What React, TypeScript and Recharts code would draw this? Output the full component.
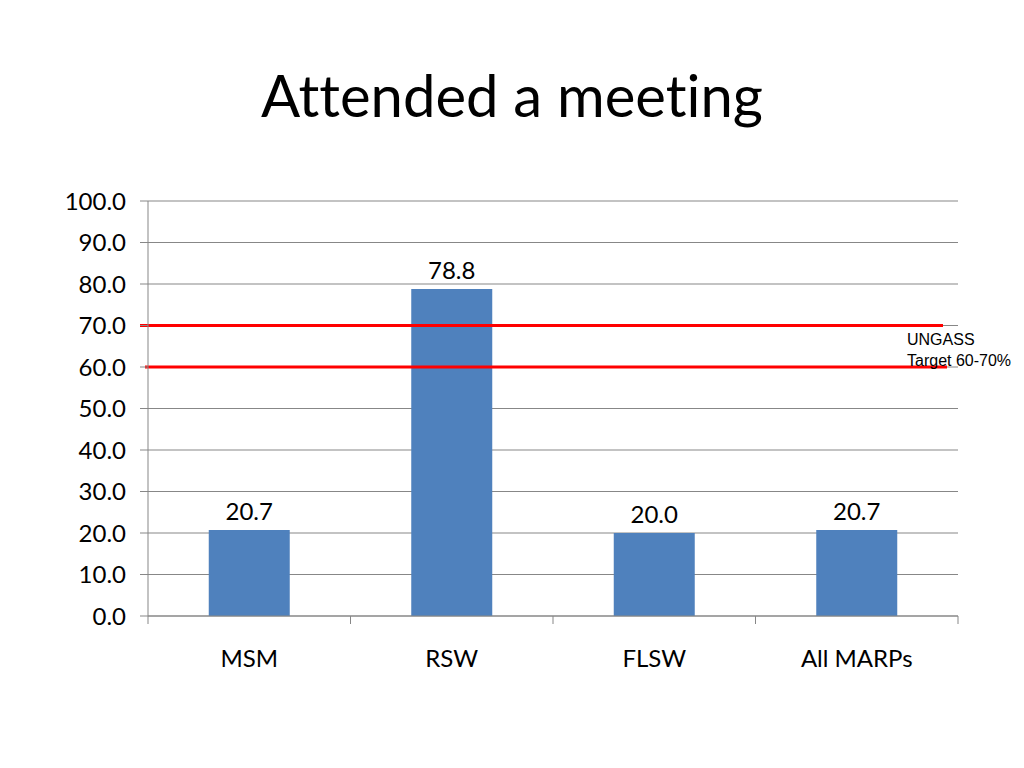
import { BarChart, Bar, XAxis, YAxis, CartesianGrid, ReferenceLine, LabelList } from 'recharts';

const groups = ['MSM', 'RSW', 'FLSW', 'All MARPs'];
const attended = [20.7, 78.8, 20.0, 20.7];
const yTicks = [0, 10, 20, 30, 40, 50, 60, 70, 80, 90, 100];
const targetLow = 60;
const targetHigh = 70;
const targetNote = ['UNGASS', 'Target 60-70%'];

const data = groups.map((name, i) => ({ name, value: attended[i] }));

const FONT = 'Lato, "Open Sans", sans-serif';
const GRID = '#878787';
const PLOT_LEFT = 148;
const PLOT_RIGHT = 958;
const HALF_BAND = (PLOT_RIGHT - PLOT_LEFT) / groups.length / 2;
const NO_LIG = { fontVariantLigatures: 'none' as const };

function CategoryTick(props: any) {
  const { x, y, payload, index } = props;
  const half = payload && payload.offset ? payload.offset : HALF_BAND;
  return (
    <g>
      <line x1={x - half} x2={x - half} y1={y} y2={y + 8} stroke={GRID} strokeWidth={1} />
      {index === groups.length - 1 && (
        <line x1={x + half} x2={x + half} y1={y} y2={y + 8} stroke={GRID} strokeWidth={1} />
      )}
      <text x={x} y={y + 51} textAnchor="middle" fontSize={24} fontFamily={FONT} fill="#000" style={NO_LIG}>
        {payload.value}
      </text>
    </g>
  );
}

function TargetLine(props: any, leftExtra: number, rightCut: number) {
  const { x1, x2, y1, y2 } = props;
  return <line x1={x1 - leftExtra} x2={x2 - rightCut} y1={y1} y2={y2} stroke="#FF0000" strokeWidth={3} />;
}

export default function App() {
  return (
    <div style={{ position: 'absolute', left: 0, top: 0, width: 1024, height: 768, background: '#fff' }}>
      <div
        style={{
          position: 'absolute',
          top: 60,
          left: 0,
          width: 1024,
          textAlign: 'center',
          fontFamily: FONT,
          fontSize: 58,
          lineHeight: '70px',
          color: '#000',
          ...NO_LIG,
        }}
      >
        Attended a meeting
      </div>
      <div style={{ position: 'absolute', left: 0, top: 0 }}>
        <BarChart
          width={1024}
          height={768}
          data={data}
          margin={{ top: 201, right: 1024 - PLOT_RIGHT, bottom: 92, left: PLOT_LEFT - 90 }}
          barCategoryGap="30%"
        >
          <CartesianGrid vertical={false} stroke={GRID} strokeWidth={1} />
          <XAxis
            dataKey="name"
            height={60}
            axisLine={{ stroke: GRID }}
            tickLine={false}
            tickSize={0}
            tickMargin={0}
            interval={0}
            tick={<CategoryTick />}
          />
          <YAxis
            width={90}
            domain={[0, 100]}
            ticks={yTicks}
            interval={0}
            tickFormatter={(v: number) => v.toFixed(1)}
            axisLine={{ stroke: GRID }}
            tickLine={{ stroke: GRID }}
            tickSize={8}
            tickMargin={14}
            tick={{ fill: '#000', fontSize: 24, fontFamily: FONT }}
          />
          <Bar dataKey="value" fill="#4F81BD" isAnimationActive={false}>
            <LabelList
              dataKey="value"
              position="top"
              offset={10}
              formatter={(v: any) => Number(v).toFixed(1)}
              style={{ fill: '#000', fontSize: 24, fontFamily: FONT }}
            />
          </Bar>
          <ReferenceLine y={targetHigh} shape={(p: any) => TargetLine(p, 8, 15)} ifOverflow="visible" />
          <ReferenceLine y={targetLow} shape={(p: any) => TargetLine(p, 3, 11)} ifOverflow="visible" />
        </BarChart>
      </div>
      <div
        style={{
          position: 'absolute',
          left: 907,
          top: 329,
          fontFamily: '"Liberation Sans", Arial, sans-serif',
          fontSize: 16,
          lineHeight: '21px',
          color: '#000',
        }}
      >
        {targetNote.map((t) => (
          <div key={t}>{t}</div>
        ))}
      </div>
    </div>
  );
}
